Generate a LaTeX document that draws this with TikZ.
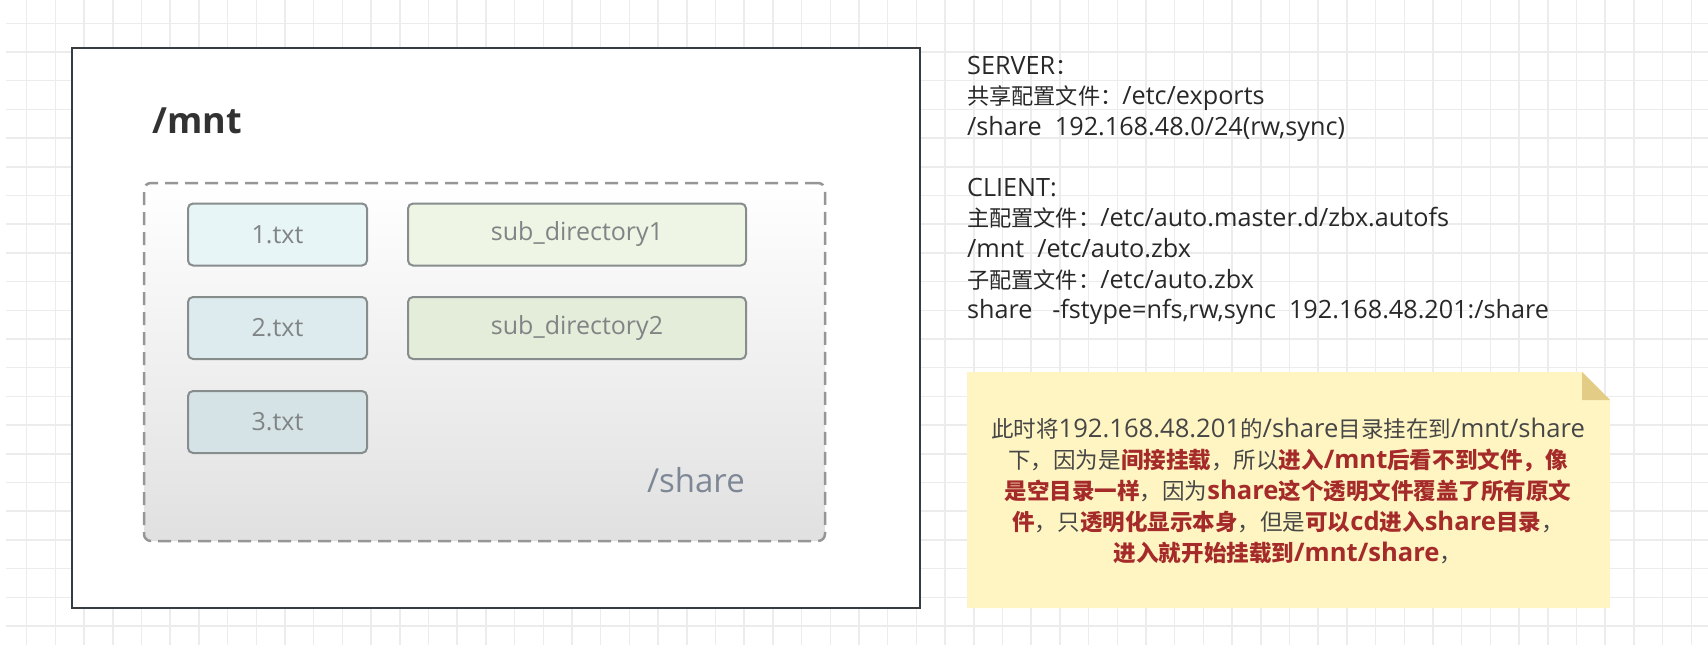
\documentclass[tikz,border=0pt]{standalone}
\usepackage{fontspec}
\setmainfont{Open Sans}
\newfontfamily\cjk{Noto Sans CJK SC}[Scale=0.88]

\definecolor{gridcol}{RGB}{236,236,236}
\definecolor{framecol}{RGB}{55,60,65}
\definecolor{dashcol}{RGB}{150,150,150}
\definecolor{boxline}{RGB}{135,140,140}
\definecolor{boxtext}{RGB}{128,132,133}
\definecolor{titletext}{RGB}{50,50,50}
\definecolor{sharetext}{RGB}{125,135,150}
\definecolor{file1}{RGB}{232,245,247}
\definecolor{file2}{RGB}{221,235,238}
\definecolor{file3}{RGB}{213,227,230}
\definecolor{dir1}{RGB}{238,245,228}
\definecolor{dir2}{RGB}{228,237,218}
\definecolor{infotext}{RGB}{40,40,40}
\definecolor{notefill}{RGB}{255,245,195}
\definecolor{foldfill}{RGB}{226,204,134}
\definecolor{notetext}{RGB}{70,70,70}
\definecolor{notered}{RGB}{165,42,42}

\newcommand\redbf[1]{{\bfseries\color{notered}#1}}

\begin{document}
\begin{tikzpicture}[x=1pt, y=-1pt,
		gridline/.style={draw=gridcol, line width=1.5pt},
		filebox/.style={draw=boxline, line width=2pt, rounded corners=5pt, minimum width=179pt, minimum height=62pt, inner sep=0pt, text=boxtext, font=\fontsize{25}{28}\selectfont},
		dirbox/.style={filebox, minimum width=338pt},
		infoline/.style={anchor=base west, inner sep=0pt, text=infotext, font=\fontsize{25.2}{30}\selectfont},
		noteline/.style={anchor=base, inner sep=0pt, text=notetext, font=\fontsize{25.6}{30}\selectfont}]

	\useasboundingbox (0,0) rectangle (1708,645);

	% Hintergrundraster
	\foreach \gx in {0,...,58}
		\draw[gridline] ({26.7+28.7*\gx},0) -- ({26.7+28.7*\gx},645);
	\foreach \gy in {0,...,21}
		\draw[gridline] (6,{23.3+28.7*\gy}) -- (1708,{23.3+28.7*\gy});

	% /mnt
	\node[draw=framecol, line width=2.5pt, fill=white, minimum width=848pt, minimum height=560pt, inner sep=0pt] (mntbox) at (496,328) {};
	\node[anchor=base west, inner sep=0pt, text=titletext, font=\bfseries\fontsize{36}{40}\selectfont] (mntlbl) at (152,133) {/mnt};

	% /share
	\node[draw=dashcol, dash pattern=on 13pt off 7pt, line width=2.5pt, rounded corners=7pt, top color=white, bottom color=black!12, minimum width=681pt, minimum height=358pt, inner sep=0pt] (sharebox) at (484.5,362) {};
	\node[anchor=base east, inner sep=0pt, text=sharetext, font=\fontsize{33}{38}\selectfont] (sharelbl) at (745,492) {/share};

	\foreach \i/\y/\c in {1/234.5/file1, 2/328/file2, 3/422/file3}
		\node[filebox, fill=\c] (f\i) at (277.5,\y) {\i.txt};

	\foreach \i/\y/\c in {1/234.5/dir1, 2/328/dir2}
		\node[dirbox, fill=\c] (d\i) at (577,\y) {sub\_directory\i};

	% Konfiguration
	\foreach \t [count=\i] in {
			{SERVER{\cjk ：}},
			{{\cjk 共享配置文件：}/etc/exports},
			{/share\ \ 192.168.48.0/24(rw,sync)}
		} {
			\node[infoline] (srv\i) at (967,{74+30.7*(\i-1)}) {\t};
		}

	\foreach \t [count=\i] in {
			{CLIENT:},
			{{\cjk 主配置文件：}/etc/auto.master.d/zbx.autofs},
			{/mnt\ \ /etc/auto.zbx},
			{{\cjk 子配置文件：}/etc/auto.zbx},
			{share\ \ \ -fstype=nfs,rw,sync\ \ 192.168.48.201:/share}
		} {
			\node[infoline] (cli\i) at (967,{196+30.7*(\i-1)}) {\t};
		}

	% Notiz
	\fill[notefill] (967,372) -- (1582,372) -- (1610,400) -- (1610,608) -- (967,608) -- cycle;
	\fill[foldfill] (1582,372) -- (1582,400) -- (1610,400) -- cycle;

	\foreach \t [count=\i] in {
			{{\cjk 此时将}192.168.48.201{\cjk 的}/share{\cjk 目录挂在到}/mnt/share},
			{{\cjk 下，因为是}\redbf{\cjk 间接挂载}{\cjk ，所以}\redbf{{\cjk 进入}/mnt{\cjk 后看不到文件，像}}},
			{\redbf{\cjk 是空目录一样}{\cjk ，因为}\redbf{share{\cjk 这个透明文件覆盖了所有原文}}},
			{\redbf{\cjk 件}{\cjk ，只}\redbf{\cjk 透明化显示本身}{\cjk ，但是}\redbf{{\cjk 可以}cd{\cjk 进入}share{\cjk 目录}}{\cjk ，}},
			{\redbf{{\cjk 进入就开始挂载到}/mnt/share}{\cjk ，}}
		} {
			\node[noteline] (note\i) at (1288,{437+31*(\i-1)}) {\t};
		}
\end{tikzpicture}
\end{document}
